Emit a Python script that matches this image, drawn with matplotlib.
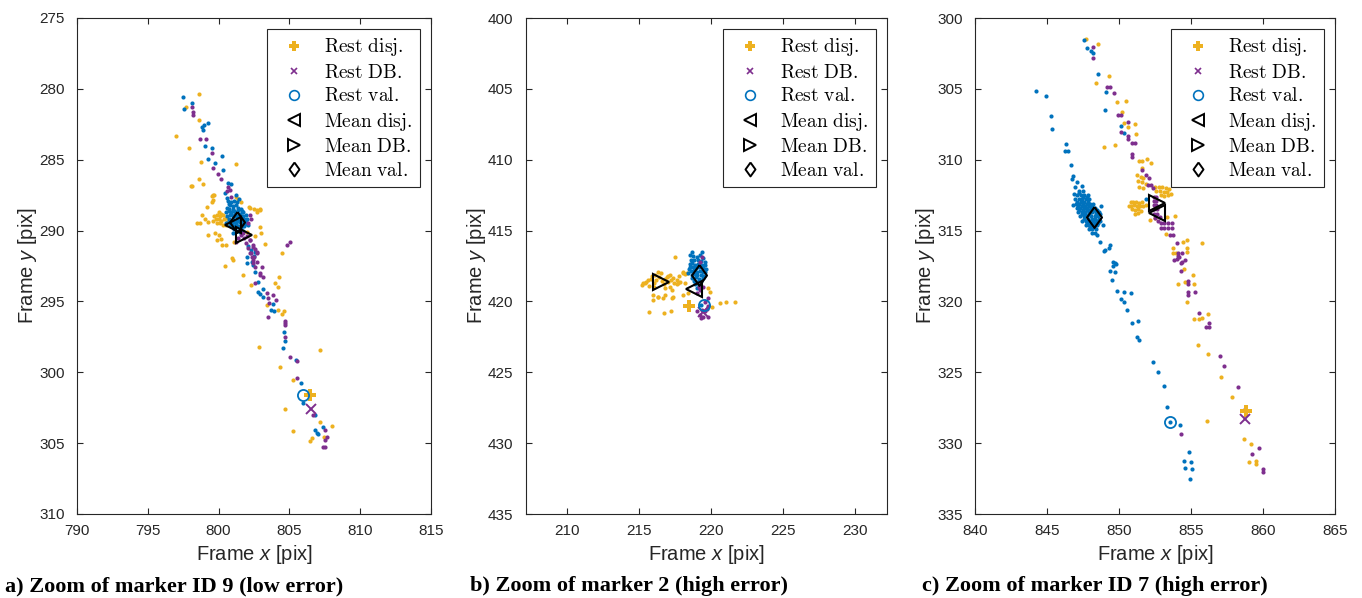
import matplotlib
matplotlib.use("Agg")
import matplotlib.pyplot as plt
from matplotlib.lines import Line2D

plt.rcParams['font.family'] = ['Liberation Sans', 'DejaVu Sans']
plt.rcParams['mathtext.fontset'] = 'custom'
plt.rcParams['mathtext.rm'] = 'Liberation Sans'
plt.rcParams['mathtext.it'] = 'Liberation Sans:italic'

ORANGE = '#EDB120'
PURPLE = '#7E2F8E'
BLUE = '#0072BD'
AXC = '#262626'

# ---------------- Panel a: marker ID 9 ----------------
a_disj = [(798.63,280.39),(797.69,281.26),(798.63,282.20),(796.96,283.31),(797.92,284.20),(798.75,285.15),
          (801.22,285.33),(798.60,286.37),(798.04,286.86),(798.91,286.74),(799.50,287.57),(799.15,288.32),
          (799.62,287.85),(800.92,291.96),(801.03,292.09),(800.44,292.49),(801.69,293.10),(804.28,293.26),
          (803.98,293.69),(802.26,293.85),(804.21,294.01),(801.45,294.32),(803.39,295.26),(804.21,295.62),
          (804.61,295.69),(804.45,295.92),(802.87,298.21),(807.16,298.44),(804.33,299.62),(805.23,300.56),
          (804.68,302.60),(807.16,303.50),(807.99,303.78),(805.27,304.14),(806.57,304.63),(806.45,304.86),
          (807.46,304.56),
          (799.7,289.0),(799.9,288.9),(800.1,289.0),(800.3,288.9),(800.5,289.1),(799.8,289.2),(800.0,289.2),
          (800.2,289.3),(800.4,289.2),(800.6,289.4),(799.9,289.5),(800.1,289.5),(800.3,289.6),(800.5,289.6),
          (799.6,289.3),(800.0,288.7),(800.2,288.8),
          (798.10,286.86),(799.67,287.50),(799.50,287.97),(798.80,288.91),(799.03,289.21),(798.44,289.45),
          (798.70,289.45),(799.26,289.38),(799.26,290.32),(799.74,290.16),(800.00,290.30),(799.86,290.67),
          (800.20,290.60),(800.21,291.03),(800.50,291.03),(801.12,290.79),(802.93,289.73),(802.68,288.67),
          (802.22,288.44),(802.50,288.50),(802.90,288.50),(803.26,290.98),(804.45,291.61),(801.98,290.09),
          (801.38,287.80),(801.60,288.00),(801.26,287.66),(799.60,287.50),(802.16,288.32),(802.68,288.55),
          (802.92,288.55),(803.00,290.20),(802.60,290.40)]
a_db = [(798.09,281.26),(798.20,281.62),(798.16,281.85),(798.67,283.56),(799.10,283.56),(799.50,284.55),
        (799.62,285.61),(799.97,286.03),(800.14,286.39),(800.68,286.91),(800.80,287.14),(801.74,290.20),
        (802.22,290.67),(802.44,291.15),(802.22,291.61),(802.68,291.50),(804.80,291.03),(805.04,290.79),
        (802.92,293.02),(803.15,293.26),(802.68,291.61),(802.33,291.85),(802.44,292.09),(803.04,292.56),
        (802.92,293.14),(802.56,293.73),(803.39,294.39),(803.86,294.56),(803.51,294.75),(804.06,294.91),
        (803.56,295.10),(803.51,296.09),(804.70,296.39),(804.70,296.53),(804.70,296.67),(804.70,297.54),
        (805.04,298.91),(805.52,299.22),(805.52,300.39),(806.70,303.03),(807.52,304.09),(807.64,304.56),
        (807.52,304.79),(807.39,305.27),(807.52,305.27),
        (801.6,290.3),(801.8,290.5),(802.0,290.4),(802.2,290.7),(801.9,290.9),(802.1,291.2),(802.4,291.0),
        (802.6,291.3),(802.3,291.6),(802.5,291.9),(802.7,292.2),(802.4,292.3),(802.6,292.6),(801.4,290.5),
        (801.2,290.8),(800.6,287.2),(800.9,287.6),(802.2,288.9),(802.3,289.2),(802.1,289.5)]
a_val = [(797.49,280.56),(797.56,281.45),(798.13,280.98),(798.80,282.67),(798.98,282.55),(799.26,282.43),
         (798.91,282.91),(799.03,284.04),(799.50,284.20),(799.26,284.95),(799.74,285.26),(800.21,284.74),
         (800.32,285.73),(800.68,286.67),(800.87,286.74),(800.44,287.38),(800.56,287.73),(802.56,291.50),
         (802.33,292.20),(801.98,292.28),(802.44,292.44),(802.56,292.91),(802.80,293.62),(803.15,294.15),
         (802.80,294.32),(802.92,294.49),(803.11,294.68),(803.86,295.21),(803.67,295.57),(803.91,295.69),
         (804.63,297.15),(804.68,297.80),(804.56,298.32),(805.46,299.15),(805.82,300.75),(805.98,302.20),
         (806.81,303.03),(807.39,303.85),(806.81,304.09),(806.93,304.28),(807.04,304.39),
         (800.6,288.4),(800.8,288.2),(801.0,288.3),(801.2,288.2),(801.4,288.4),(801.6,288.5),(800.5,288.7),
         (800.7,288.6),(800.9,288.7),(801.1,288.6),(801.3,288.7),(801.5,288.8),(801.7,288.7),(801.9,288.9),
         (800.6,289.0),(800.8,288.9),(801.0,289.0),(801.2,289.0),(801.4,289.1),(801.6,289.0),(801.8,289.2),
         (800.7,289.3),(800.9,289.3),(801.1,289.4),(801.3,289.3),(801.5,289.4),(801.7,289.5),(801.9,289.4),
         (800.8,289.6),(801.0,289.7),(801.2,289.6),(801.4,289.7),(801.6,289.8),(801.8,289.7),(801.1,289.9),
         (801.3,290.0),(801.5,290.1),(800.9,288.0),(801.1,287.9),(801.3,288.0),(800.7,288.1),(802.0,289.2),
         (800.55,289.5),(801.0,290.2),(801.7,290.0),(802.05,289.6),(800.65,287.9),(801.45,287.8),
         (801.2,287.5),(802.1,291.1),(802.3,291.4),(802.5,291.8),(802.0,291.9),
         (800.75,288.45),(801.05,288.5),(801.35,288.55),(801.65,288.65),(800.85,288.8),(801.15,288.85),
         (801.45,288.95),(801.75,289.0),(800.75,289.15),(801.05,289.2),(801.35,289.25),(801.65,289.3),
         (800.95,289.5),(801.25,289.5),(801.55,289.6),(801.85,289.55)]
a_rest_disj = (806.45, 301.6)
a_rest_db = (806.52, 302.6)
a_rest_val = (805.95, 301.6)
a_mean_disj = (801.03, 289.64)
a_mean_db = (801.76, 290.34)
a_mean_val = (801.31, 289.38)

# ---------------- Panel b: marker 2 ----------------
b_disj = [(215.19,418.84),(217.50,416.89),(218.07,417.97),(218.30,418.00),(217.84,418.61),(218.20,418.70),
          (217.27,419.20),(215.99,419.55),(216.34,419.71),(216.80,419.55),(215.95,419.90),(217.27,419.78),
          (215.69,420.73),(216.75,420.84),(217.22,420.66),(218.07,419.55),(218.40,419.40),(220.05,420.37),
          (220.58,420.09),(221.05,420.02),(221.67,420.02),(219.81,419.08),(219.90,419.30),
          (215.41,418.72),(215.64,418.49),(215.70,418.90),(216.11,418.14),(216.34,417.90),(216.50,418.00),
          (216.92,418.26),(217.15,418.10),(217.38,418.37),(217.61,418.49),(217.80,418.20),(218.07,417.90),
          (218.20,418.05),(217.70,418.70),(217.15,418.96),(216.80,419.08),(216.34,419.67),(216.68,419.78),
          (217.38,419.67),
          (215.5,418.6),(215.8,418.4),(216.0,418.7),(216.2,418.5),(216.4,418.3),(216.6,418.55),(216.8,418.4),
          (217.0,418.6),(217.2,418.5),(217.4,418.7),(217.6,418.8),(215.9,418.2),(216.7,418.8),(217.0,418.2),
          (216.0,419.0),(215.3,418.7)]
b_db = [(219.12,418.96),(219.40,419.00),(219.23,417.20),(219.35,416.90),(219.81,419.78),(219.58,420.02),
        (219.80,420.30),(219.35,420.60),(219.60,420.70),(219.46,421.08),(219.81,421.08),(219.23,420.96),
        (219.00,420.70),(219.20,419.20),(219.05,419.40),(219.70,420.50),(219.30,421.20)]
b_val = [(218.55,416.73),(219.35,416.49),(219.20,416.70),(218.75,416.80),(219.00,416.90),(219.40,416.95),
         (218.60,417.10),(218.80,417.05),(219.10,417.10),(219.30,417.15),(219.55,417.20),(218.50,417.35),
         (218.70,417.30),(218.90,417.40),(219.10,417.35),(219.35,417.40),(219.60,417.45),(218.55,417.60),
         (218.75,417.55),(218.95,417.65),(219.15,417.60),(219.40,417.65),(219.65,417.70),(218.60,417.85),
         (218.80,417.80),(219.00,417.90),(219.20,417.85),(219.45,417.90),(219.60,417.95),(218.65,418.10),
         (218.85,418.05),(219.05,418.15),(219.30,418.10),(219.50,418.20),(218.70,418.35),(218.95,418.30),
         (219.15,418.40),(219.40,418.35),(218.80,418.55),(219.05,418.60),(219.30,418.55),(218.90,418.80),
         (219.15,418.85),(219.00,419.05),(218.40,418.00),(218.45,417.70),(219.28,420.25),(218.70,416.50)]
b_rest_disj = (218.49, 420.33)
b_rest_db = (219.40, 420.75)
b_rest_val = (219.53, 420.25)
b_mean_disj = (218.84, 419.10)
b_mean_db = (216.50, 418.61)
b_mean_val = (219.18, 418.10)

# ---------------- Panel c: marker ID 7 ----------------
c_disj = [(847.71,301.48),(848.56,301.83),(849.31,304.07),(848.40,304.57),(849.84,305.95),(850.51,305.84),
          (850.19,306.61),(850.37,307.43),(850.60,307.69),(851.11,307.46),(851.20,308.17),(848.96,309.08),
          (849.72,308.96),(851.37,310.07),(851.60,310.07),(851.97,309.97),(852.22,310.21),(851.60,310.61),
          (850.8,313.0),(851.0,312.95),(851.2,313.0),(851.4,313.05),(851.6,313.0),(850.85,313.25),
          (851.05,313.2),(851.25,313.3),(851.45,313.25),(851.65,313.3),(851.85,313.2),(850.9,313.5),
          (851.1,313.55),(851.3,313.5),(851.5,313.6),(851.1,313.8),(851.3,313.75),(850.7,313.3),
          (851.25,311.1),(851.5,311.2),(851.7,311.3),(851.35,311.5),(851.6,311.6),(851.85,311.7),
          (851.4,311.9),(851.7,312.0),
          (852.5,311.95),(852.75,311.9),(853.0,311.95),(853.25,312.0),(853.5,312.1),(852.6,312.2),
          (852.85,312.2),(853.1,312.25),(853.35,312.3),(852.9,312.5),(853.15,312.55),(853.4,312.5),
          (853.6,312.4),
          (852.15,314.26),(852.50,314.10),(853.31,314.02),(853.89,313.95),(853.24,315.24),(854.47,315.79),
          (854.70,315.67),(855.74,315.90),(853.77,316.25),(853.73,316.56),(853.95,316.56),(854.70,316.49),
          (854.70,316.20),(854.53,317.71),(855.14,318.16),(854.12,318.77),(854.58,318.63),(855.23,318.77),
          (854.70,320.07),(856.20,320.89),(855.23,321.26),(855.58,321.26),(855.79,321.15),(855.51,323.08),
          (856.20,323.71),(857.08,325.34),(857.87,326.77),(856.13,328.46),(858.70,329.71),(859.15,330.06),
          (859.05,331.33),(859.51,331.26),(859.51,331.50)]
c_db = [(848.17,302.07),(848.17,302.80),(849.14,304.85),(849.40,304.85),(849.65,305.32),(849.91,306.82),
        (850.15,306.82),(850.63,307.32),(850.12,308.07),(850.63,308.33),(850.65,308.56),(850.88,308.82),
        (851.10,308.82),(850.88,309.58),(850.88,309.81),
        (851.58,310.73),(851.88,311.08),(852.10,311.31),(852.04,311.79),(852.25,311.79),(852.38,312.02),
        (852.4,312.6),(852.6,312.6),(852.4,312.9),(852.6,312.9),(852.4,313.2),(852.6,313.2),(852.45,313.5),
        (852.65,313.5),(852.45,313.8),(852.65,313.8),(852.5,314.1),(852.85,314.02),(852.7,314.3),
        (852.9,314.5),(853.15,314.5),(853.4,314.5),(853.65,314.5),(852.9,314.8),(853.15,314.8),(853.4,314.8),
        (853.65,314.8),(853.54,315.31),(853.75,315.31),(854.00,315.86),(854.35,316.60),(854.20,316.90),
        (854.00,317.00),(854.35,317.20),(853.84,317.08),(854.07,316.80),(854.31,317.31),(854.58,317.08),
        (854.07,316.55),(854.31,317.83),(854.81,318.56),(854.81,318.80),(854.81,319.32),(855.28,319.32),
        (854.81,319.55),(855.56,320.80),(856.27,321.55),(856.04,321.83),(856.27,321.83),(857.02,323.83),
        (857.26,324.56),(858.24,326.06),(858.74,327.59),(854.31,329.36),(859.72,330.33),(859.24,330.79),
        (859.98,331.83),(859.98,332.06)]
c_val = [(844.21,305.13),(844.93,305.50),(845.26,306.89),(845.37,307.86),(846.32,308.91),(846.25,309.39),
         (846.45,309.39),(846.65,310.40),(846.78,311.15),(846.72,311.35),(846.94,311.91),(847.10,311.60),
         (847.41,311.86),
         (847.2,312.2),(847.5,312.2),
         (847.1,312.5),(847.35,312.5),(847.6,312.5),(847.85,312.5),
         (846.95,312.8),(847.2,312.8),(847.45,312.8),(847.7,312.8),(847.95,312.8),
         (847.0,313.1),(847.25,313.1),(847.5,313.1),(847.75,313.1),(848.0,313.1),(848.2,313.1),
         (847.05,313.4),(847.3,313.4),(847.55,313.4),(847.8,313.4),(848.05,313.4),(848.3,313.4),
         (847.15,313.7),(847.4,313.7),(847.65,313.7),(847.9,313.7),(848.15,313.7),(848.4,313.7),(848.6,313.7),
         (847.3,314.0),(847.55,314.0),(847.8,314.0),(848.05,314.0),(848.3,314.0),(848.55,314.0),
         (847.45,314.3),(847.7,314.3),(847.95,314.3),(848.2,314.3),(848.45,314.3),(848.7,314.3),
         (847.7,314.6),(847.95,314.6),(848.2,314.6),(848.45,314.6),
         (847.9,314.9),(848.15,314.9),(848.4,314.9),
         (848.1,315.2),(848.35,315.2),
         (847.25,312.35),(847.5,312.65),(847.75,312.65),(847.1,312.95),(847.35,312.95),(847.6,312.95),
         (847.85,312.95),(847.15,313.25),(847.4,313.25),(847.65,313.25),(847.9,313.25),(848.15,313.25),
         (847.25,313.55),(847.5,313.55),(847.75,313.55),(848.0,313.55),(848.25,313.55),(848.5,313.55),
         (847.4,313.85),(847.65,313.85),(847.9,313.85),(848.4,313.85),(848.65,313.85),
         (847.6,314.15),(847.85,314.15),(848.1,314.15),(848.35,314.15),(848.6,314.15),
         (847.8,314.45),(848.05,314.45),(848.3,314.45),(848.55,314.45),(848.0,314.75),(848.25,314.75),
         (846.8,313.2),(848.75,313.3),(846.9,312.4),(848.9,314.6),
         (848.45,315.31),(848.68,315.79),(849.03,316.37),(849.30,316.20),(849.40,316.00),(849.56,317.20),
         (849.70,317.30),(849.60,317.50),(848.98,316.42),(849.80,317.35),(849.40,317.85),(849.75,317.90),
         (849.49,318.49),(849.84,319.27),(850.35,319.32),(850.81,319.43),(850.14,319.83),(850.37,320.02),
         (850.53,320.63),(850.92,321.55),(851.30,321.38),(851.27,322.49),(851.37,322.70),(852.38,324.26),
         (852.69,324.96),(853.15,325.95),(853.31,327.43),(853.54,328.49),(854.24,328.72),(854.84,330.65),
         (854.53,331.24),(854.98,331.36),(854.60,331.74),(855.10,331.83),(854.95,332.56),
         (847.57,301.55),(847.80,302.14),(848.06,302.31),(848.17,302.49),(848.56,303.98),(849.10,305.22),
         (849.03,306.51),(850.12,307.60),(850.37,308.14),(851.88,312.79)]
c_rest_disj = (858.82, 327.71)
c_rest_db = (858.72, 328.30)
c_rest_val = (853.54, 328.49)
c_mean_disj = (852.66, 313.78)
c_mean_db = (852.62, 313.08)
c_mean_val = (848.26, 314.07)

legend_labels = ['Rest disj.', 'Rest DB.', 'Rest val.', 'Mean disj.', 'Mean DB.', 'Mean val.']
captions = ['a) Zoom of marker ID 9 (low error)', 'b) Zoom of marker 2 (high error)',
            'c) Zoom of marker ID 7 (high error)']

W, H = 1362, 598
fig = plt.figure(figsize=(W / 100, H / 100), dpi=100)

DIAMOND = [(0, 1), (0.72, 0), (0, -1), (-0.72, 0), (0, 1)]


def panel(rect, disj, db, val, rdisj, rdb, rval, mdisj, mdb, mval, xlim, ylim, xticks, yticks):
    l, r, t, b = rect
    ax = fig.add_axes([l / W, 1 - b / H, (r - l) / W, (b - t) / H])
    for pts, col in [(disj, ORANGE), (val, BLUE), (db, PURPLE)]:
        xs = [p[0] for p in pts]
        ys = [p[1] for p in pts]
        ax.plot(xs, ys, ls='none', marker='o', ms=3.0, mew=0, color=col, zorder=2)
    ax.plot([rdisj[0]], [rdisj[1]], ls='none', marker='P', ms=9, mew=0, color=ORANGE, zorder=3)
    ax.plot([rdb[0]], [rdb[1]], ls='none', marker='x', ms=7, mew=1.4, color=PURPLE, zorder=3)
    ax.plot([rval[0]], [rval[1]], ls='none', marker='o', ms=8, mfc='none', mew=1.3, mec=BLUE, zorder=3)
    ax.plot([mdisj[0]], [mdisj[1]], ls='none', marker='<', ms=12, mfc='none', mec='black', mew=1.5, zorder=4)
    ax.plot([mdb[0]], [mdb[1]], ls='none', marker='>', ms=12, mfc='none', mec='black', mew=1.5, zorder=4)
    ax.plot([mval[0]], [mval[1]], ls='none', marker=DIAMOND, ms=15, mfc='none', mec='black', mew=1.5, zorder=4)
    ax.set_xlim(*xlim)
    ax.set_ylim(ylim[1], ylim[0])
    ax.set_xticks(xticks)
    ax.set_yticks(yticks)
    ax.tick_params(direction='in', top=True, right=True, length=4, width=0.8,
                   labelsize=11, colors=AXC, labelcolor=AXC)
    ax.tick_params(axis='x', pad=7.5)
    ax.tick_params(axis='y', pad=9)
    for s in ax.spines.values():
        s.set_color(AXC)
        s.set_linewidth(0.8)
    ax.set_xlabel('Frame $x$ [pix]', fontsize=14.5, color=AXC, labelpad=3)
    ax.set_ylabel('Frame $y$ [pix]', fontsize=14.5, color=AXC, labelpad=0)
    handles = [
        Line2D([], [], ls='none', marker='P', ms=7, mew=0, color=ORANGE),
        Line2D([], [], ls='none', marker='x', ms=5, mew=1.2, color=PURPLE),
        Line2D([], [], ls='none', marker='o', ms=7, mfc='none', mew=1.2, mec=BLUE),
        Line2D([], [], ls='none', marker='<', ms=8, mfc='none', mew=1.4, mec='black'),
        Line2D([], [], ls='none', marker='>', ms=8, mfc='none', mew=1.4, mec='black'),
        Line2D([], [], ls='none', marker=DIAMOND, ms=10, mfc='none', mew=1.4, mec='black'),
    ]
    labels = [r'$\mathrm{' + s.replace(' ', r'\ ') + '}$' for s in legend_labels]
    leg = ax.legend(handles, labels, loc='upper right', borderaxespad=0.55, fancybox=False,
                    framealpha=1, edgecolor=AXC, handlelength=2.0, handletextpad=0.55,
                    borderpad=0.4, labelspacing=0.28,
                    prop={'size': 14, 'math_fontfamily': 'cm'})
    leg.get_frame().set_linewidth(0.8)
    return ax


panel((77, 431, 18, 514), a_disj, a_db, a_val, a_rest_disj, a_rest_db, a_rest_val,
      a_mean_disj, a_mean_db, a_mean_val, (790, 815), (275, 310),
      [790, 795, 800, 805, 810, 815], [275, 280, 285, 290, 295, 300, 305, 310])
panel((526, 887, 18, 514), b_disj, b_db, b_val, b_rest_disj, b_rest_db, b_rest_val,
      b_mean_disj, b_mean_db, b_mean_val, (207.15, 232.2), (400, 435),
      [210, 215, 220, 225, 230], [400, 405, 410, 415, 420, 425, 430, 435])
panel((975, 1335, 18, 514), c_disj, c_db, c_val, c_rest_disj, c_rest_db, c_rest_val,
      c_mean_disj, c_mean_db, c_mean_val, (840, 865), (300, 335),
      [840, 845, 850, 855, 860, 865], [300, 305, 310, 315, 320, 325, 330, 335])

for x0, cap in zip([5, 470, 922], captions):
    fig.text(x0 / W, 1 - 586 / H, cap, fontsize=16, fontweight='bold',
             family='Liberation Serif', va='center', ha='left', color='black')

fig.savefig('out.png', dpi=100)
